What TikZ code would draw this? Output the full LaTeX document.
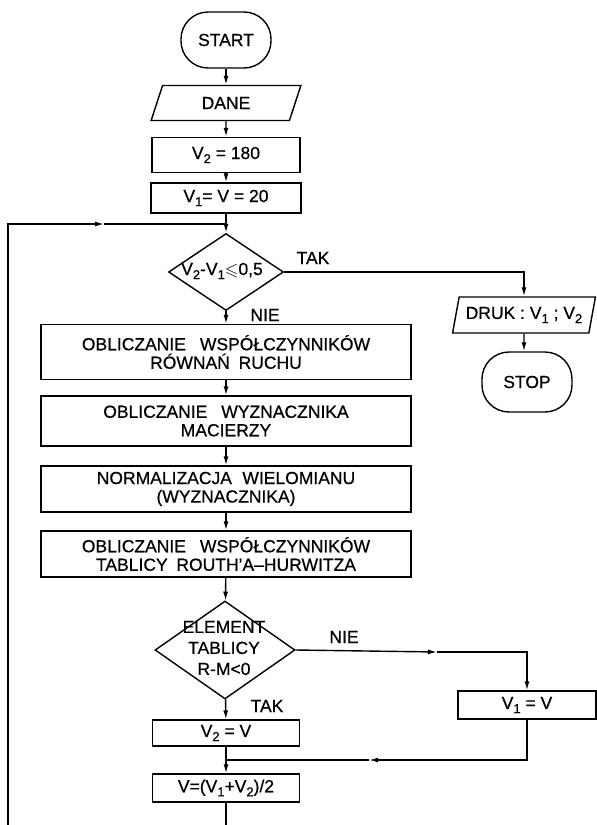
\documentclass[tikz,border=0pt]{standalone}
\usepackage{fontspec}
\usepackage{amssymb}
\setmainfont{Liberation Sans}[FakeBold=0.6]
\usetikzlibrary{shapes.geometric,arrows.meta}
\newcommand{\ix}[1]{\raisebox{-0.45ex}{\fontsize{13}{13}\selectfont #1}}
\tikzset{
  txt/.style={font=\fontsize{17.5}{18.5}\selectfont, align=center},
  terminal/.style={txt, draw, line width=1.4pt, rounded corners=27pt, minimum width=90pt, minimum height=56pt},
  io/.style={txt, draw, line width=1.4pt, trapezium, trapezium left angle=70, trapezium right angle=110,
    trapezium stretches=true, minimum height=35pt, inner sep=0pt},
  process/.style={txt, draw, line width=1.4pt, minimum width=148pt, minimum height=30pt, inner sep=0pt},
  bigbox/.style={process, minimum width=370pt},
  decision/.style={draw, line width=1.4pt, diamond, inner sep=0pt},
  flow/.style={line width=1.4pt, -{Latex[length=9pt,width=5pt]}},
  line/.style={line width=1.4pt}
}
\begin{document}
\begin{tikzpicture}[x=1pt,y=-1pt]
\useasboundingbox (0,0) rectangle (597,825);
% main column
\node[terminal] (start) at (226,40) {START};
\node[io, minimum width=150pt] (dane) at (226,103) {DANE};
\node[process, minimum height=35pt] (v2init) at (226,155) {V\ix{2} = 180};
\node[process, minimum width=150pt] (v1init) at (226,198) {V\ix{1}= V = 20};
\coordinate (junction) at (226,224);
\node[decision, minimum width=115pt, minimum height=77pt] (dec1) at (226,272) {};
\node[txt] (dec1txt) at (222,271) {V\ix{2}-V\ix{1}$\leqslant$0,5};
\node[bigbox, minimum height=55pt] (calc1) at (226,352) {OBLICZANIE\hspace{0.8em}WSPÓŁCZYNNIKÓW\\RÓWNAŃ\hspace{0.5em}RUCHU};
\node[bigbox, minimum height=50pt] (calc2) at (226,421) {OBLICZANIE\hspace{0.8em}WYZNACZNIKA\\MACIERZY};
\node[bigbox, minimum height=46pt] (calc3) at (226,489) {NORMALIZACJA\hspace{0.6em}WIELOMIANU\\(WYZNACZNIKA)};
\node[bigbox, minimum height=46pt] (calc4) at (226,554) {OBLICZANIE\hspace{0.8em}WSPÓŁCZYNNIKÓW\\TABLICY\hspace{0.5em}ROUTH'A–HURWITZA};
\node[decision, minimum width=140pt, minimum height=98pt] (dec2) at (225,650) {};
\node[txt, font=\fontsize{17.5}{21}\selectfont] (dec2txt) at (224,648) {ELEMENT\\TABLICY\\R-M<0};
\node[process, minimum height=26pt, minimum width=147pt] (v2set) at (226,733) {V\ix{2} = V};
\coordinate (merge) at (226,760);
\node[process, minimum height=28pt, minimum width=147pt] (avg) at (226,788) {V=(V\ix{1}+V\ix{2})/2};
% right column
\node[io, minimum width=143pt, minimum height=36pt] (druk) at (524,315) {DRUK : V\ix{1} ; V\ix{2}};
\node[terminal, minimum height=60pt] (stop) at (527,382) {STOP};
\node[process, minimum height=28pt, minimum width=138pt] (v1set) at (527,705) {V\ix{1} = V};
% labels
\node[txt] (tak1) at (313,258) {TAK};
\node[txt] (nie1) at (265,315) {NIE};
\node[txt] (nie2) at (344,637) {NIE};
\node[txt] (tak2) at (267,706) {TAK};
% arrow points on long lines, free ends at the bottom edge
\coordinate (looparr) at (104,224);
\coordinate (nie2arr) at (437,652);
\coordinate (mergearr) at (369,760);
\coordinate (loopbot) at (8,825);
\coordinate (outbot) at (226,825);
% connectors
\draw[flow] (start) -- (dane);
\draw[flow] (dane) -- (v2init);
\draw[flow] (v2init) -- (v1init);
\draw[flow] (v1init) -- (dec1);
\draw[flow] (loopbot) |- (looparr);
\draw[line] (looparr) -- (junction);
\draw[flow] (dec1.east) -| (druk.north);
\draw[flow] (druk) -- (druk |- stop.north);
\draw[flow] (dec1) -- (calc1);
\draw[flow] (calc1) -- (calc2);
\draw[flow] (calc2) -- (calc3);
\draw[flow] (calc3) -- (calc4);
\draw[flow] (calc4) -- (dec2);
\draw[flow] (dec2.east) -- (nie2arr);
\draw[flow] (nie2arr) -| (v1set.north);
\draw[flow] (dec2) -- (v2set);
\draw[flow] (v2set) -- (avg);
\draw[flow] (v1set.south) |- (mergearr);
\draw[line] (mergearr) -- (merge);
\draw[line] (avg) -- (outbot);
\end{tikzpicture}
\end{document}
